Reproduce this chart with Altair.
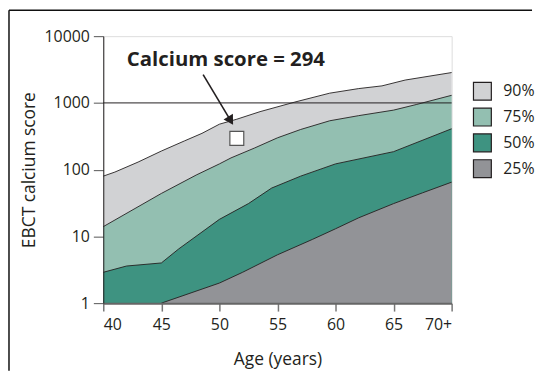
import altair as alt
import pandas as pd

# ---- data ----
series_names = ["90%", "75%", "50%", "25%"]
series_colors = ["#d1d2d4", "#93bfb1", "#3e9381", "#929397"]

ages90 = [40, 41, 43, 45, 47, 48.5, 50, 51.5, 53.5, 56.5, 59.5, 62, 64, 66, 70]
p90 = [80, 92, 130, 190, 270, 350, 480, 570, 740, 1030, 1400, 1640, 1800, 2200, 2850]

ages75 = [40, 45, 48, 50, 51, 53, 55, 57, 59.5, 62, 65, 67, 70]
p75 = [14, 44, 83, 122, 150, 210, 300, 400, 540, 645, 780, 950, 1300]

ages50 = [40, 42, 45, 46.5, 50, 52.5, 54.5, 57, 60, 65, 70]
p50 = [2.9, 3.6, 4.0, 6.5, 18, 31, 53, 80, 122, 186, 410]

ages25 = [45, 50, 52, 55, 58, 60, 62, 65, 67.5, 70]
p25 = [1.0, 2.0, 2.9, 5.3, 9.0, 13, 19, 31, 45, 65]

x_ticks = [40, 45, 50, 55, 60, 65, 70]
y_ticks = [1, 10, 100, 1000, 10000]
grid_values = [1000]

patient_age = [51.5]
patient_score = [294]
annot_text = ["Calcium score = 294"]
annot_age = [50.56]
annot_value = [3630]
arrow_age = [48.6, 50.97]
arrow_value = [2650, 542]

INK = "#231f20"
FONT = "Open Sans"

xscale = alt.Scale(domain=[40, 70], nice=False, zero=False)
yscale = alt.Scale(type="log", domain=[1, 10000], nice=False)
cscale = alt.Scale(domain=series_names, range=series_colors)

xaxis = alt.Axis(values=x_ticks, labelExpr="datum.value == 70 ? '70+' : datum.value",
                 title="Age (years)", grid=False, tickSize=8, labelPadding=6,
                 tickColor="#777777", tickWidth=1.5, domainColor="#666666", domainWidth=2,
                 labelFontSize=16, labelColor=INK, titleFontSize=17.5, titleFontWeight="normal",
                 titleColor=INK, titlePadding=18, labelFont=FONT, titleFont=FONT, zindex=1)
yaxis = alt.Axis(values=y_ticks, format="d", title="EBCT calcium score", grid=False,
                 tickSize=10, labelPadding=4, tickColor="#555555", domainColor=INK,
                 labelFontSize=16, labelColor=INK, titleFontSize=17.5, titleFontWeight="normal",
                 titleColor=INK, titlePadding=6, labelFont=FONT, titleFont=FONT, zindex=1)
legend = alt.Legend(orient="none", legendX=372, legendY=45.5, title=None, symbolType="square",
                    symbolSize=324, symbolStrokeColor=INK, symbolStrokeWidth=1.2,
                    labelFontSize=16, labelOffset=11, rowPadding=2, padding=0,
                    labelColor=INK, labelFont=FONT, symbolOpacity=1)

X = alt.X("age:Q", scale=xscale, axis=xaxis)
Y = alt.Y("value:Q", scale=yscale, axis=yaxis, stack=None)
C = alt.Color("series:N", scale=cscale, legend=legend)


def band(ages, vals, name):
    df = pd.DataFrame({"age": ages, "value": vals, "series": name})
    area = alt.Chart(df).mark_area(opacity=1).encode(x=X, y=Y, y2=alt.datum(1), color=C)
    edge = alt.Chart(df).mark_line(color=INK, strokeWidth=0.9).encode(x=X, y=Y)
    return [area, edge]


layers = (band(ages90, p90, "90%") + band(ages75, p75, "75%")
          + band(ages50, p50, "50%") + band(ages25, p25, "25%"))

grid = alt.Chart(pd.DataFrame({"g": grid_values})).mark_rule(
    color=INK, strokeWidth=1).encode(y=alt.Y("g:Q", scale=yscale))

arrow_df = pd.DataFrame({"a1": [arrow_age[0]], "v1": [arrow_value[0]],
                         "a2": [arrow_age[1]], "v2": [arrow_value[1]]})
arrow_line = alt.Chart(arrow_df).mark_rule(color=INK, strokeWidth=1.6).encode(
    x=alt.X("a1:Q", scale=xscale), y=alt.Y("v1:Q", scale=yscale),
    x2="a2:Q", y2="v2:Q")
arrow_head = alt.Chart(arrow_df).mark_point(
    shape="triangle-up", filled=True, color=INK, opacity=1, size=120, angle=149
).encode(x=alt.X("a2:Q", scale=xscale), y=alt.Y("v2:Q", scale=yscale))

patient = alt.Chart(pd.DataFrame({"age": patient_age, "score": patient_score})).mark_point(
    shape="square", filled=True, fill="white", stroke="#555555", strokeWidth=1.2,
    size=196, opacity=1).encode(x=alt.X("age:Q", scale=xscale), y=alt.Y("score:Q", scale=yscale))

label = alt.Chart(pd.DataFrame({"age": annot_age, "value": annot_value, "t": annot_text})).mark_text(
    font=FONT, fontSize=20.5, fontWeight="bold", color=INK, align="center", baseline="alphabetic"
).encode(x=alt.X("age:Q", scale=xscale), y=alt.Y("value:Q", scale=yscale), text="t:N")

dummy = pd.DataFrame({"d": [0]})
frame_top = alt.Chart(dummy).mark_rule(color="#111111", strokeWidth=1.5).encode(
    x=alt.value(-95), x2=alt.value(432), y=alt.value(-26))
frame_left = alt.Chart(dummy).mark_rule(color="#111111", strokeWidth=1.5).encode(
    x=alt.value(-95), y=alt.value(-26), y2=alt.value(337))

chart = alt.layer(*layers, grid, arrow_line, arrow_head, patient, label, frame_top, frame_left).properties(
    width=351, height=269, padding={"left": 0, "top": 0, "right": 0, "bottom": 0}
).configure_view(stroke="#3a3a3a", strokeWidth=1).configure(font=FONT, background="white")

chart.save("out.html", embed_options={"renderer": "svg", "actions": False})
